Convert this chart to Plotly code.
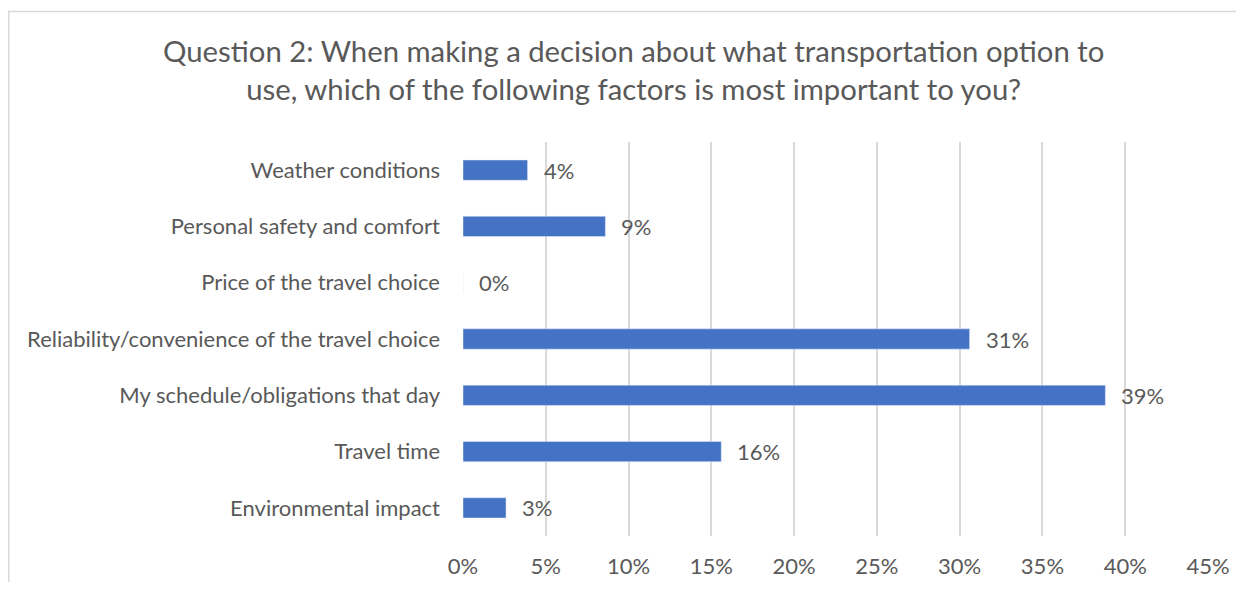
import plotly.graph_objects as go

categories = ["Environmental impact", "Travel time", "My schedule/obligations that day",
              "Reliability/convenience of the travel choice", "Price of the travel choice",
              "Personal safety and comfort", "Weather conditions"]
values = [2.6, 15.6, 38.8, 30.6, 0.0, 8.6, 3.9]
tick_vals = [0, 5, 10, 15, 20, 25, 30, 35, 40, 45]
tick_text = [f"{v}%" for v in tick_vals]
title_text = ("Question 2: When making a decision about what transportation option to<br>"
              "use, which of the following factors is most important to you?")

FONT = "Lato"
TXT = "#595959"
GRID = "#D9D9D9"

W, H = 1228, 574
L, R, T, B = 455, 28, 134, 46
pw = W - L - R
ph = H - T - B
def px2x(px):
    return (px - L) / pw
def py2y(py):
    return (H - B - py) / ph

fig = go.Figure(go.Bar(
    x=values, y=categories, orientation="h",
    marker=dict(color="#4472C4"),
    width=0.36,
    hoverinfo="skip",
))

for c, v in zip(categories, values):
    fig.add_annotation(x=v, y=c, text=f"{round(v):.0f}%", showarrow=False,
                       xanchor="left", xshift=14, font=dict(family=FONT, size=22, color=TXT))

fig.add_annotation(text=title_text, xref="paper", yref="paper",
                   x=px2x(625), y=py2y(62), xanchor="center", yanchor="middle",
                   showarrow=False, align="center",
                   font=dict(family=FONT, size=29.3, color=TXT))

fig.add_shape(type="line", xref="paper", yref="paper",
              x0=px2x(0.75), x1=px2x(0.75), y0=py2y(3), y1=py2y(600),
              line=dict(color=GRID, width=1.5), layer="below")
fig.add_shape(type="line", xref="paper", yref="paper",
              x0=px2x(0), x1=px2x(1260), y0=py2y(3.5), y1=py2y(3.5),
              line=dict(color=GRID, width=1.5), layer="below")

fig.update_layout(
    width=W, height=H,
    margin=dict(l=L, r=R, t=T, b=B, autoexpand=False),
    paper_bgcolor="white", plot_bgcolor="white",
    showlegend=False,
    xaxis=dict(range=[0, 45], tickvals=tick_vals, ticktext=tick_text,
               showgrid=True, gridcolor=GRID, gridwidth=1.5,
               zeroline=False, showline=False, ticks="",
               ticklabelstandoff=15, automargin=False,
               tickfont=dict(family=FONT, size=22, color=TXT)),
    yaxis=dict(categoryorder="array", categoryarray=categories,
               showgrid=False, zeroline=False, showline=False, ticks="",
               ticklabelstandoff=22, automargin=False,
               tickfont=dict(family=FONT, size=22, color=TXT)),
)

fig.write_html("out.html")
